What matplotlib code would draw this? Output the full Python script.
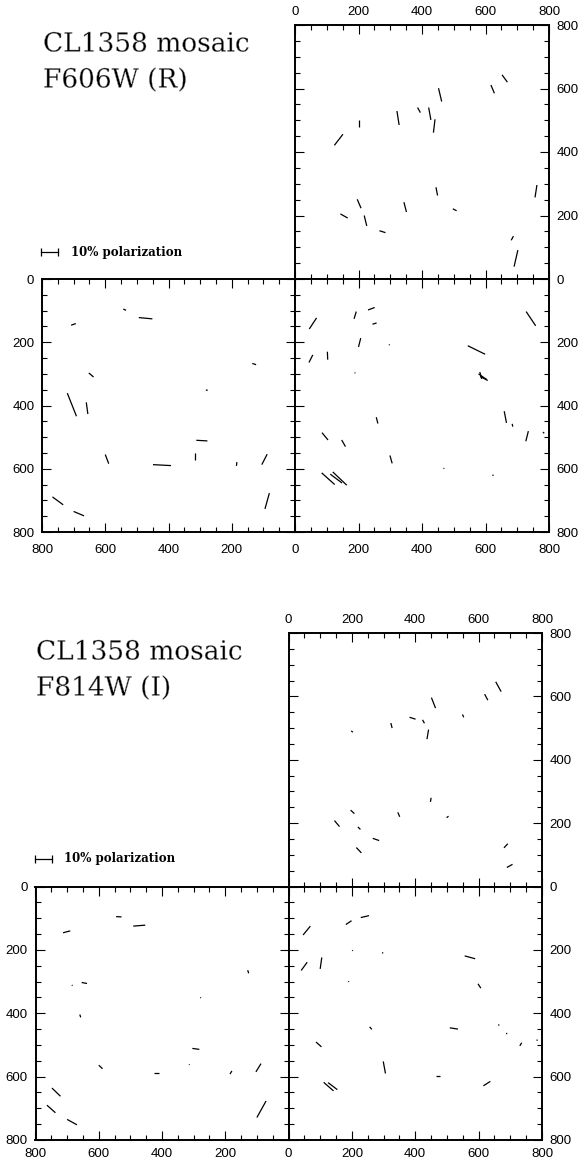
import matplotlib
matplotlib.use("Agg")
import matplotlib.pyplot as plt
import matplotlib.patheffects as pe
from matplotlib.collections import LineCollection

# ---------------- data: polarization vectors (endpoints, chip pixel coords) -------------
r_top = [(124,421,151,456),(200,501,200,480),(321,529,328,485),(386,540,395,524),
         (421,540,428,501),(441,503,436,461),(452,601,462,559),(617,611,628,585),
         (652,643,669,620),(143,205,166,192),(196,251,208,223),(218,200,226,167),
         (266,152,285,146),(343,242,351,211),(444,289,449,263),(497,221,509,215),
         (762,296,756,257),(688,135,681,122),(702,91,690,39)]
r_left = [(543,95,534,99),(494,122,451,126),(708,146,693,141),(652,297,637,310),
          (720,361,691,434),(660,390,655,427),(135,267,123,271),(282,352,276,351),
          (312,510,277,512),(315,551,315,572),(600,555,589,584),(449,587,392,590),
          (184,579,185,591),(88,554,105,587),(81,677,95,727),(767,689,733,714),
          (700,735,667,749)]
r_right = [(45,158,68,123),(186,126,193,103),(230,98,251,90),(244,143,257,139),
           (200,215,207,187),(296,207,298,209),(44,264,56,240),(102,230,103,255),
           (188,296,190,298),(728,103,758,148),(544,211,599,238),(578,300,604,318),
           (583,308,607,321),(582,294,588,316),(659,418,666,455),(684,458,686,467),
           (735,481,727,513),(781,484,785,488),(256,437,261,457),(85,486,104,509),
           (147,509,159,530),(299,558,306,583),(468,598,470,600),(622,619,625,622),
           (84,613,125,650),(111,617,148,645),(119,610,163,652)]
i_top = [(198,491,203,487),(323,516,327,500),(382,534,401,528),(423,526,429,515),
         (442,495,437,465),(451,596,464,563),(549,543,553,534),(619,607,629,588),
         (654,646,671,615),(450,280,448,267),(499,217,505,222),(345,234,351,220),
         (196,241,208,230),(145,208,161,189),(219,188,227,180),(266,152,286,145),
         (214,123,230,106),(692,135,680,122),(707,70,689,60)]
i_left = [(545,95,528,96),(491,125,453,122),(713,146,690,140),(654,303,637,306),
          (685,311,683,313),(660,404,657,413),(129,264,126,274),(279,350,277,352),
          (304,511,282,514),(314,561,313,563),(600,564,588,575),(426,590,411,590),
          (179,582,185,592),(87,559,103,585),(71,677,100,729),(748,636,721,662),
          (764,690,737,714),(700,735,669,752)]
i_right = [(46,153,69,125),(181,120,199,108),(228,98,254,92),(201,203,203,201),
           (295,209,299,210),(40,265,59,239),(105,224,100,260),(189,301,191,299),
           (556,219,589,228),(598,307,607,321),(256,443,263,451),(509,446,535,450),
           (663,435,664,439),(688,462,689,466),(736,493,730,503),(784,483,785,487),
           (87,491,104,506),(299,552,306,590),(464,599,479,599),(637,615,615,629),
           (111,618,142,645),(125,619,154,641)]

tick_values = [0, 200, 400, 600, 800]
tick_labels = ["0", "200", "400", "600", "800"]
titles = [("CL1358 mosaic", "F606W (R)"), ("CL1358 mosaic", "F814W (I)")]
scale_label = "10% polarization"
scale_percent = 10
units_per_percent = 5.4

# ---------------- figure ----------------
W, H = 582, 1159
plt.rcParams['font.family'] = ['Liberation Sans', 'DejaVu Sans']
fig = plt.figure(figsize=(W / 100, H / 100), dpi=100)
fig.patch.set_facecolor('white')

thin = [pe.Normal(), pe.Stroke(linewidth=0.3, foreground='white')]


def rect(l, t, r, b):
    return [l / W, 1 - b / H, (r - l) / W, (b - t) / H]


def make_panel(r, xinv, yinv, xlab_side, ylab_side, xhide0, yhide0, segs, xpad):
    ax = fig.add_axes(rect(*r))
    ax.set_xlim((800, 0) if xinv else (0, 800))
    ax.set_ylim((800, 0) if yinv else (0, 800))
    ax.set_xticks(tick_values)
    ax.set_yticks(tick_values)
    ax.set_xticks(range(0, 801, 50), minor=True)
    ax.set_yticks(range(0, 801, 50), minor=True)
    ax.set_xticklabels(["" if (xhide0 and v == 0) else l for v, l in zip(tick_values, tick_labels)])
    ax.set_yticklabels(["" if (yhide0 and v == 0) else l for v, l in zip(tick_values, tick_labels)])
    ax.tick_params(which='both', direction='in', top=True, bottom=True, left=True, right=True,
                   labeltop=(xlab_side == 'top'), labelbottom=(xlab_side == 'bottom'),
                   labelleft=(ylab_side == 'left'), labelright=(ylab_side == 'right'),
                   width=0.8, labelsize=9.5)
    ax.tick_params(which='major', length=6.8)
    ax.tick_params(which='minor', length=3.6)
    ax.tick_params(axis='x', pad=xpad)
    ax.tick_params(axis='y', pad=5.5)
    for s in ax.spines.values():
        s.set_linewidth(1.4)
    lc = LineCollection([[(a, b), (c, d)] for a, b, c, d in segs], colors='black', linewidths=0.9)
    ax.add_collection(lc)
    return ax


def mosaic(x0, x1, x2, y0, y1, y2, segs_top, segs_left, segs_right, title, tx, ty1, ty2,
           bar_y, bottom_pad):
    make_panel((x1, y0, x2, y1), False, False, 'top', 'right', False, False, segs_top, 5.2)
    axl = make_panel((x0, y1, x1, y2), True, True, 'bottom', 'left', True, False, segs_left, bottom_pad)
    make_panel((x1, y1, x2, y2), False, True, 'bottom', 'right', False, True, segs_right, bottom_pad)
    for txt, ty in ((title[0], ty1), (title[1], ty2)):
        fig.text(tx / W, 1 - ty / H, txt, family='DejaVu Serif', fontsize=19,
                 ha='left', va='center', path_effects=thin)
    # scale bar drawn in the lower-left panel's data system (outside the frame)
    bx = 803
    by = bar_y
    blen = scale_percent * units_per_percent
    axl.plot([bx, bx - blen], [by, by], color='black', lw=0.9, clip_on=False)
    axl.plot([bx, bx - blen], [by, by], ls='none', marker='|', ms=6, mew=0.9,
             color='black', clip_on=False)
    axl.text(bx - blen - 40, by, scale_label, family='DejaVu Serif', fontweight='bold',
             fontsize=8.5, ha='left', va='center', clip_on=False)


mosaic(42, 295, 549, 25, 279, 532, r_top, r_left, r_right, titles[0], 43, 44, 80, -85, 8.6)
mosaic(35.5, 288.5, 542, 633, 886.5, 1140, i_top, i_left, i_right, titles[1], 36, 652, 688, -87, 5.5)

fig.savefig("out.png", dpi=100, facecolor='white')
